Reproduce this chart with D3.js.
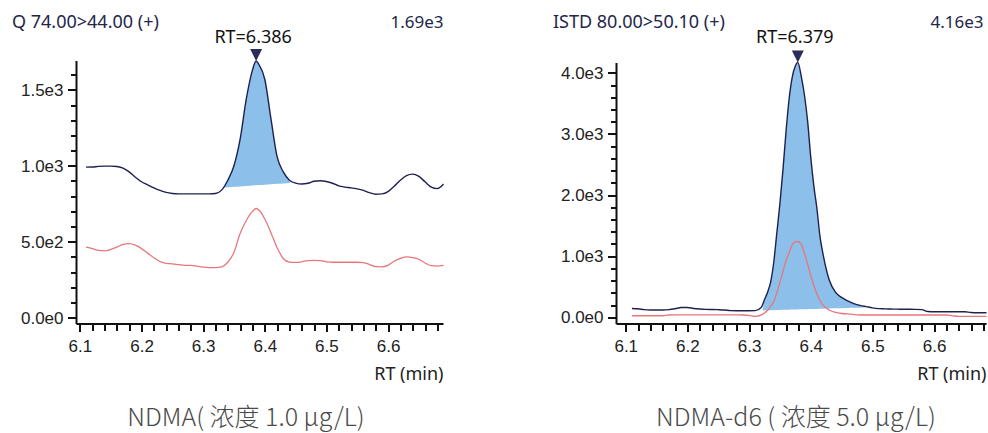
<!DOCTYPE html>
<html lang="zh">
<head>
  <meta charset="UTF-8">
  <title>NDMA / NDMA-d6 色谱图</title>
  <script src="https://d3js.org/d3.v7.min.js"></script>
  <style>
    body {
      margin: 0;
      background: #fff;
    }
    svg {
      display: block;
      font-family: 'Noto Sans', 'Open Sans', sans-serif;
    }
    .axis path,
    .axis line {
      stroke: #111;
      stroke-width: 2;
      shape-rendering: crispEdges;
    }
    .axis text {
      font-size: 17px;
      fill: #222;
    }
    .head {
      font-size: 18px;
      fill: #23264a;
    }
    .caption {
      font-family: 'Noto Sans CJK SC', sans-serif;
      font-weight: 300;
      font-size: 25px;
      fill: #4a4a4a;
    }
  </style>
</head>
<body>
  <svg width="988" height="433"></svg>

  <script>
    // ---- データ（左：NDMA 1.0 µg/L）----
    const timesA = [6.11, 6.12, 6.13, 6.14, 6.15, 6.16, 6.17, 6.18, 6.19, 6.20,
      6.21, 6.22, 6.23, 6.24, 6.25, 6.26, 6.27, 6.28, 6.29, 6.30,
      6.31, 6.32, 6.33, 6.34, 6.35, 6.36, 6.37, 6.38, 6.386, 6.39,
      6.40, 6.41, 6.42, 6.43, 6.44, 6.45, 6.46, 6.47, 6.48, 6.49,
      6.50, 6.51, 6.52, 6.53, 6.54, 6.55, 6.56, 6.57, 6.58, 6.59,
      6.60, 6.61, 6.62, 6.63, 6.64, 6.65, 6.66, 6.67, 6.68, 6.69];
    const quantA = [991, 992, 996, 998, 998, 995, 985, 960, 925, 895,
      875, 855, 838, 825, 818, 815, 815, 815, 815, 815,
      815, 818, 840, 905, 1000, 1175, 1440, 1630, 1690, 1670,
      1570, 1310, 1060, 960, 905, 886, 880, 885, 898, 902,
      897, 885, 868, 860, 855, 848, 838, 823, 813, 815,
      830, 865, 905, 935, 945, 930, 895, 860, 850, 880];
    const qualA = [465, 455, 443, 440, 450, 465, 482, 488, 478, 455,
      425, 395, 370, 358, 355, 350, 345, 345, 340, 333,
      330, 330, 335, 365, 430, 555, 640, 700, 719, 710,
      650, 560, 460, 390, 366, 364, 368, 376, 378, 376,
      368, 365, 365, 365, 365, 365, 362, 350, 336, 335,
      345, 372, 390, 400, 396, 385, 360, 343, 340, 345];
    const peakA = [[6.333, 857], [6.441, 887]];   // 積分ベースライン
    const yTicksA = [0, 500, 1000, 1500];
    const yLabelsA = ["0.0e0", "5.0e2", "1.0e3", "1.5e3"];

    // ---- データ（右：NDMA-d6 5.0 µg/L）----
    const timesB = [6.11, 6.12, 6.13, 6.14, 6.15, 6.16, 6.17, 6.18, 6.19, 6.20,
      6.21, 6.22, 6.23, 6.24, 6.25, 6.26, 6.27, 6.28, 6.29, 6.30,
      6.31, 6.32, 6.325, 6.33, 6.335, 6.34, 6.345, 6.35, 6.355, 6.36,
      6.365, 6.37, 6.375, 6.379, 6.385, 6.39, 6.395, 6.40, 6.405, 6.41,
      6.415, 6.42, 6.43, 6.44, 6.45, 6.46, 6.47, 6.48, 6.49, 6.50,
      6.51, 6.52, 6.53, 6.54, 6.55, 6.56, 6.57, 6.58, 6.59, 6.60,
      6.61, 6.62, 6.63, 6.64, 6.65, 6.66, 6.67, 6.68, 6.685];
    const quantB = [145, 140, 125, 120, 120, 120, 125, 140, 160, 160,
      145, 135, 130, 128, 125, 120, 110, 108, 108, 108,
      110, 165, 290, 410, 580, 900, 1380, 1860, 2420, 3050,
      3580, 3930, 4110, 4170, 3920, 3620, 3200, 2620, 2150, 1780,
      1320, 1030, 610, 412, 325, 268, 225, 195, 175, 155,
      142, 138, 135, 133, 131, 131, 130, 125, 95, 92,
      92, 92, 92, 92, 90, 78, 75, 75, 75];
    const qualB = [25, 25, 25, 25, 25, 25, 38, 40, 40, 40,
      40, 40, 40, 40, 40, 40, 40, 40, 38, 30,
      15, 40, 70, 115, 180, 260, 400, 570, 750, 930,
      1060, 1190, 1235, 1240, 1185, 1040, 870, 680, 520, 380,
      275, 200, 120, 80, 62, 56, 45, 38, 38, 38,
      38, 38, 38, 38, 38, 38, 38, 38, 38, 38,
      38, 38, 25, 15, 15, 15, 15, 15, 15];
    const peakB = [[6.322, 112], [6.488, 160]];
    const yTicksB = [0, 1000, 2000, 3000, 4000];
    const yLabelsB = ["0.0e0", "1.0e3", "2.0e3", "3.0e3", "4.0e3"];

    const xTicks = [6.1, 6.2, 6.3, 6.4, 6.5, 6.6];

    // パネル設定
    const panels = [
      {
        times: timesA, quant: quantA, qual: qualA, peak: peakA,
        yTicks: yTicksA, yLabels: yLabelsA, yMax: 1690, yMinorStep: 100,
        xDomain: [6.0945, 6.69], xRange: [76.5, 443.5], yRange: [317.7, 61],
        title: "Q 74.00>44.00 (+)", maxLabel: "1.69e3", rt: 6.386, rtLabel: "RT=6.386",
        caption: "NDMA( 浓度 1.0 μg/L)"
      },
      {
        times: timesB, quant: quantB, qual: qualB, peak: peakB,
        yTicks: yTicksB, yLabels: yLabelsB, yMax: 4160, yMinorStep: 200,
        xDomain: [6.085, 6.685], xRange: [616.5, 986.5], yRange: [317.3, 63],
        title: "ISTD 80.00>50.10 (+)", maxLabel: "4.16e3", rt: 6.379, rtLabel: "RT=6.379",
        caption: "NDMA-d6 ( 浓度 5.0 μg/L)"
      }
    ];

    const svg = d3.select("svg");
    const axisY = 324;

    panels.forEach((p, i) => {
      const x = d3.scaleLinear().domain(p.xDomain).range(p.xRange);
      const y = d3.scaleLinear().domain([0, p.yMax]).range(p.yRange);
      const g = svg.append("g");

      // 積分エリア（曲線とベースラインの間）
      const [s, e] = p.peak;
      const base = d3.scaleLinear().domain([s[0], e[0]]).range([s[1], e[1]]);
      const inside = p.times.map((t, k) => [t, p.quant[k]])
        .filter(d => d[0] > s[0] && d[0] < e[0]);
      const areaPts = [s, ...inside, e];
      g.append("path")
        .datum(areaPts)
        .attr("fill", "#8cbfe9")
        .attr("d", d3.area()
          .x(d => x(d[0]))
          .y0(d => y(base(d[0])))
          .y1(d => y(d[1]))
          .curve(d3.curveMonotoneX));

      const line = d3.line()
        .x(d => x(d[0]))
        .y(d => y(d[1]))
        .curve(d3.curveMonotoneX);

      g.append("path")
        .datum(p.times.map((t, k) => [t, p.qual[k]]))
        .attr("fill", "none")
        .attr("stroke", "#e8767a")
        .attr("stroke-width", 1.3)
        .attr("d", line);

      g.append("path")
        .datum(p.times.map((t, k) => [t, p.quant[k]]))
        .attr("fill", "none")
        .attr("stroke", "#1e2150")
        .attr("stroke-width", 1.4)
        .attr("d", line);

      // y 軸（主目盛と副目盛）
      const yMinor = d3.range(0, p.yMax, p.yMinorStep).filter(v => !p.yTicks.includes(v));
      g.append("g")
        .attr("class", "axis")
        .attr("transform", `translate(${p.xRange[0]},0)`)
        .call(d3.axisLeft(y).tickValues(yMinor).tickSize(6).tickFormat(""))
        .call(a => a.select(".domain").remove());
      g.append("g")
        .attr("class", "axis")
        .attr("transform", `translate(${p.xRange[0]},0)`)
        .call(d3.axisLeft(y).tickValues(p.yTicks).tickSize(9).tickPadding(4)
          .tickFormat((d, k) => p.yLabels[k]))
        .call(a => a.select(".domain").remove());
      g.append("line")
        .attr("x1", p.xRange[0]).attr("x2", p.xRange[0])
        .attr("y1", p.yRange[1]).attr("y2", axisY)
        .attr("stroke", "#111").attr("stroke-width", 2);

      // x 軸
      const xMinor = d3.range(6.08, p.xDomain[1], 0.02)
        .filter(t => t >= p.xDomain[0] && !xTicks.some(m => Math.abs(m - t) < 1e-6));
      g.append("g")
        .attr("class", "axis")
        .attr("transform", `translate(0,${axisY})`)
        .call(d3.axisBottom(x).tickValues(xMinor).tickSize(7).tickFormat(""))
        .call(a => a.select(".domain").remove());
      g.append("g")
        .attr("class", "axis")
        .attr("transform", `translate(0,${axisY})`)
        .call(d3.axisBottom(x).tickValues(xTicks).tickSize(8).tickPadding(8)
          .tickFormat(d3.format(".1f")))
        .call(a => a.select(".domain").remove());
      g.append("line")
        .attr("x1", p.xRange[0]).attr("x2", p.xRange[1])
        .attr("y1", axisY).attr("y2", axisY)
        .attr("stroke", "#111").attr("stroke-width", 2);

      g.append("text")
        .attr("class", "head")
        .style("fill", "#222")
        .attr("x", p.xRange[1]).attr("y", 380)
        .attr("text-anchor", "end")
        .text("RT (min)");

      // ヘッダー
      g.append("text")
        .attr("class", "head")
        .attr("x", i === 0 ? 12 : 553).attr("y", 28)
        .text(p.title);
      g.append("text")
        .attr("class", "head")
        .style("font-size", "17px")
        .attr("x", p.xRange[1] - (i === 0 ? 0 : 3)).attr("y", 28)
        .attr("text-anchor", "end")
        .text(p.maxLabel);

      // RT マーカー
      const px = x(p.rt), py = y(d3.max(p.quant));
      g.append("path")
        .attr("d", `M${px - 6},${py - 12}L${px + 6},${py - 12}L${px},${py}Z`)
        .attr("fill", "#2a2d5c");
      g.append("text")
        .attr("class", "head")
        .style("fill", "#111")
        .attr("x", px - 3).attr("y", 43)
        .attr("text-anchor", "middle")
        .text(p.rtLabel);

      // キャプション
      g.append("text")
        .attr("class", "caption")
        .attr("x", i === 0 ? 246 : 796).attr("y", 426)
        .attr("text-anchor", "middle")
        .text(p.caption);
    });
  </script>
</body>
</html>
